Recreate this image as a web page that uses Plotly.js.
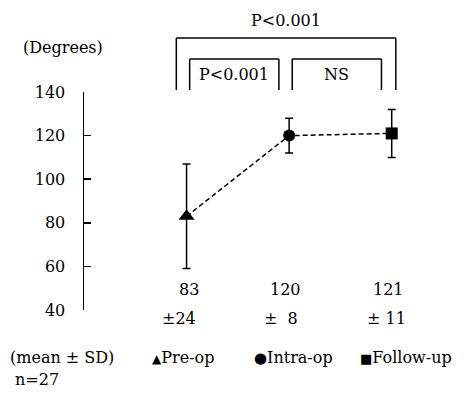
<!DOCTYPE html>
<html>
<head>
<meta charset="utf-8">
<script src="https://cdn.plot.ly/plotly-3.0.1.min.js"></script>
<style>html,body{margin:0;padding:0;background:#fff;}#chart{width:470px;height:404px;}</style>
</head>
<body>
<div id="chart"></div>
<script>
// ---- data ----
const groups = ['Pre-op', 'Intra-op', 'Follow-up'];
const groupX = [1, 2, 3];
const means = [83, 120, 121];
const sds = [24, 8, 11];
const sdLabels = ['\u00B124', '\u00B1\u00A0\u00A08', '\u00B1\u00A011'];
const yTicks = [40, 60, 80, 100, 120, 140];
const symbols = ['triangle-up', 'circle', 'square'];
const legendGlyphs = ['\u25B2', '\u25CF', '\u25A0'];
const comparisons = [
  {from: 1, to: 3, label: 'P<0.001', level: 'outer'},
  {from: 1, to: 2, label: 'P<0.001', level: 'inner'},
  {from: 2, to: 3, label: 'NS', level: 'inner'}
];
const yTitle = '(Degrees)';
const statNote = '(mean\u00A0\u00B1\u00A0SD)';
const nNote = 'n=27';

const FONT = "DejaVu Serif";
const FS = 16;

const trace = {
  x: groupX, y: means, type: 'scatter', mode: 'lines+markers',
  line: {color: '#000', width: 1.5, dash: '5px,3px'},
  marker: {symbol: symbols, size: [14, 12, 12], color: '#000', opacity: 1, line: {width: 0}},
  error_y: {type: 'data', array: sds, visible: true, color: '#000', thickness: 1.5, width: 4},
  showlegend: false, hoverinfo: 'none'
};

const annotations = [];
const shapes = [];
const tf = {family: FONT, size: FS, color: '#000'};

annotations.push({text: yTitle, xref: 'paper', yref: 'paper', x: -0.058, y: 1.202,
  xanchor: 'center', yanchor: 'middle', showarrow: false, font: tf});

groupX.forEach((gx, i) => {
  annotations.push({text: String(means[i]), xref: 'x', yref: 'paper', x: gx, y: 0.092,
    xanchor: 'right', yanchor: 'middle', xshift: 14, showarrow: false, font: tf});
  annotations.push({text: sdLabels[i], xref: 'x', yref: 'paper', x: gx, y: -0.037,
    xanchor: 'left', yanchor: 'middle', xshift: -27, showarrow: false, font: tf});
});

const legendX = [0.1838, 0.468, 0.763];
const glyphSizes = [12, 15, 13];
annotations.push({text: statNote, xref: 'paper', yref: 'paper', x: -0.2117, y: -0.2156,
  xanchor: 'left', yanchor: 'middle', showarrow: false, font: tf});
annotations.push({text: nNote, xref: 'paper', yref: 'paper', x: -0.198, y: -0.321,
  xanchor: 'left', yanchor: 'middle', showarrow: false, font: tf});
groups.forEach((g, i) => {
  annotations.push({text: '<span style="font-family:\'DejaVu Sans\';font-size:' + glyphSizes[i] + 'px">' + legendGlyphs[i] + '</span>' + g,
    xref: 'paper', yref: 'paper', x: legendX[i], y: -0.2156,
    xanchor: 'left', yanchor: 'middle', showarrow: false, font: tf});
});

const levels = {outer: {top: 1.248, bottom: 1.009, textY: 1.33},
                inner: {top: 1.151, bottom: 1.009, textY: 1.08}};
comparisons.forEach(c => {
  const L = levels[c.level];
  const x0 = c.level === 'outer' ? c.from - 0.1 : c.from + 0.03;
  const x1 = c.level === 'outer' ? c.to + 0.04 : c.to - 0.1;
  const ln = {color: '#000', width: 1.5};
  shapes.push({type: 'line', xref: 'x', yref: 'paper', x0: x0, x1: x1, y0: L.top, y1: L.top, line: ln});
  shapes.push({type: 'line', xref: 'x', yref: 'paper', x0: x0, x1: x0, y0: L.top, y1: L.bottom, line: ln});
  shapes.push({type: 'line', xref: 'x', yref: 'paper', x0: x1, x1: x1, y0: L.top, y1: L.bottom, line: ln});
  annotations.push({text: c.label, xref: 'x', yref: 'paper', x: (x0 + x1) / 2, y: L.textY,
    xanchor: 'center', yanchor: 'middle', showarrow: false, font: tf});
});

const layout = {
  width: 470, height: 404,
  margin: {l: 84, r: 27, t: 92, b: 94, pad: 0},
  paper_bgcolor: '#fff', plot_bgcolor: '#fff',
  font: tf,
  xaxis: {visible: false, range: [0, 3.5], fixedrange: true},
  yaxis: {range: [40, 140], tickvals: yTicks, ticktext: yTicks.map(String),
    ticks: 'inside', ticklen: 7, tickwidth: 1.5, tickcolor: '#000',
    showline: true, linewidth: 1.5, linecolor: '#000', showgrid: false, zeroline: false,
    ticklabelstandoff: 14, tickfont: tf},
  annotations: annotations, shapes: shapes
};

Plotly.newPlot('chart', [trace], layout, {displayModeBar: false, staticPlot: true});
</script>
</body>
</html>
